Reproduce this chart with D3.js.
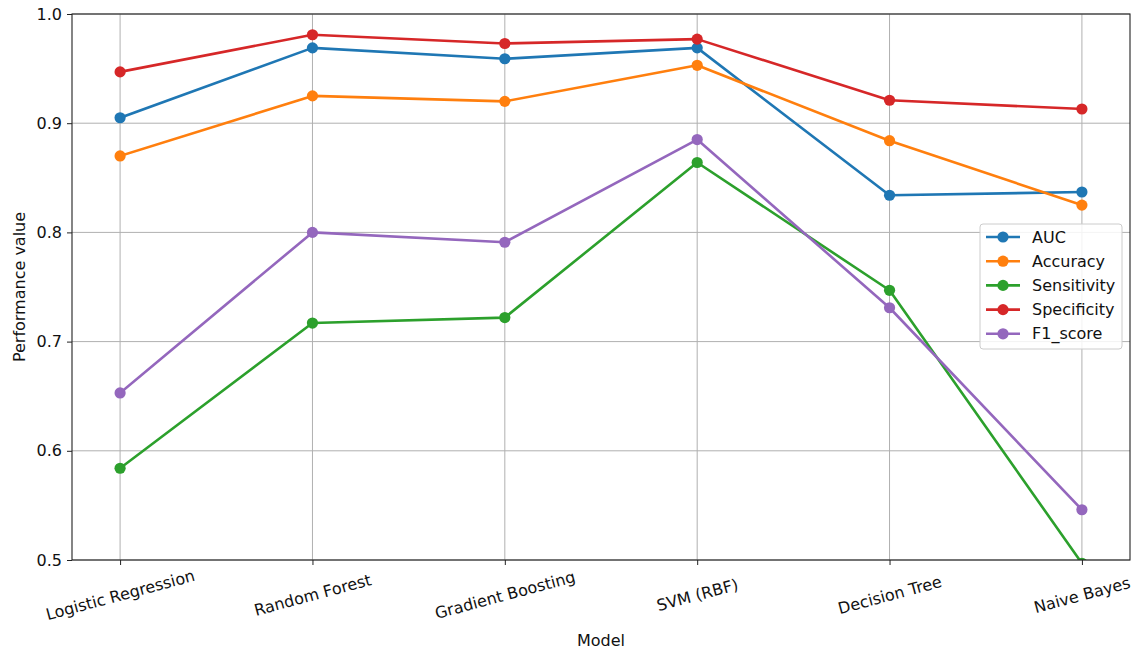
<!DOCTYPE html>
<html>
<head>
<meta charset="utf-8">
<script src="https://cdn.jsdelivr.net/npm/d3@7"></script>
<style>
  html, body { margin: 0; padding: 0; background: #fff; }
  svg { display: block; font-family: "DejaVu Sans", sans-serif; }
</style>
</head>
<body>
<svg id="chart" width="1132" height="651"></svg>
<script>
// Models on the x axis
const models = ["Logistic Regression", "Random Forest", "Gradient Boosting", "SVM (RBF)", "Decision Tree", "Naive Bayes"];

// Metric values per model
const auc         = [0.905, 0.969, 0.959, 0.969, 0.834, 0.837];
const accuracy    = [0.870, 0.925, 0.920, 0.953, 0.884, 0.825];
const sensitivity = [0.584, 0.717, 0.722, 0.864, 0.747, 0.497];
const specificity = [0.947, 0.981, 0.973, 0.977, 0.921, 0.913];
const f1Score     = [0.653, 0.800, 0.791, 0.885, 0.731, 0.546];

const seriesNames  = ["AUC", "Accuracy", "Sensitivity", "Specificity", "F1_score"];
const seriesColors = ["#1f77b4", "#ff7f0e", "#2ca02c", "#d62728", "#9467bd"];
const yTicks = [0.5, 0.6, 0.7, 0.8, 0.9, 1.0];

const series = [auc, accuracy, sensitivity, specificity, f1Score].map((vals, i) => ({
  name: seriesNames[i], color: seriesColors[i], values: vals
}));

const FONT = 16;
const svg = d3.select("#chart");
const plot = { left: 72, right: 1130, top: 14, bottom: 560 };

const x = d3.scaleLinear()
  .domain([-0.25, models.length - 0.75])
  .range([plot.left, plot.right]);
const y = d3.scaleLinear().domain([0.5, 1.0]).range([plot.bottom, plot.top]);

svg.append("defs").append("clipPath").attr("id", "plot-clip")
  .append("rect")
  .attr("x", plot.left).attr("y", plot.top)
  .attr("width", plot.right - plot.left).attr("height", plot.bottom - plot.top);

// Grid lines
const grid = svg.append("g");
grid.selectAll("line.gx").data(models).enter().append("line")
  .attr("x1", (d, i) => x(i)).attr("x2", (d, i) => x(i))
  .attr("y1", plot.top).attr("y2", plot.bottom)
  .attr("stroke", "#b0b0b0").attr("stroke-width", 1);
grid.selectAll("line.gy").data(yTicks).enter().append("line")
  .attr("x1", plot.left).attr("x2", plot.right)
  .attr("y1", d => y(d)).attr("y2", d => y(d))
  .attr("stroke", "#b0b0b0").attr("stroke-width", 1);

// Series lines and markers
const lines = svg.append("g").attr("clip-path", "url(#plot-clip)");
const lineGen = d3.line().x((d, i) => x(i)).y(d => y(d));
series.forEach(s => {
  lines.append("path")
    .attr("d", lineGen(s.values))
    .attr("fill", "none")
    .attr("stroke", s.color)
    .attr("stroke-width", 2.6)
    .attr("stroke-linejoin", "round")
    .attr("stroke-linecap", "square");
  lines.selectAll(null).data(s.values).enter().append("circle")
    .attr("cx", (d, i) => x(i)).attr("cy", d => y(d))
    .attr("r", 5.6).attr("fill", s.color);
});

// Axes
const yAxis = d3.axisLeft(y).tickValues(yTicks).tickFormat(d3.format(".1f")).tickSize(5).tickPadding(5);
const xAxis = d3.axisBottom(x).tickValues(d3.range(models.length)).tickFormat(i => models[i]).tickSize(5).tickPadding(4);

const gy = svg.append("g").attr("transform", `translate(${plot.left},0)`).call(yAxis);
gy.select(".domain").remove();
gy.selectAll("line").attr("stroke", "#222").attr("stroke-width", 1);
gy.selectAll("text").attr("font-size", FONT).attr("fill", "#111").attr("font-family", "DejaVu Sans");

const gx = svg.append("g").attr("transform", `translate(0,${plot.bottom})`).call(xAxis);
gx.select(".domain").remove();
gx.selectAll("line").attr("stroke", "#222").attr("stroke-width", 1);
gx.selectAll("text")
  .attr("font-size", FONT).attr("fill", "#111").attr("font-family", "DejaVu Sans")
  .attr("text-anchor", "middle")
  .attr("dy", null).attr("y", null)
  .attr("transform", "translate(0,36) rotate(-15)")
  .attr("dominant-baseline", "middle");

// Frame
svg.append("rect")
  .attr("x", plot.left).attr("y", plot.top)
  .attr("width", plot.right - plot.left).attr("height", plot.bottom - plot.top)
  .attr("fill", "none").attr("stroke", "#222").attr("stroke-width", 1.1);

// Axis titles
svg.append("text")
  .attr("x", (plot.left + plot.right) / 2).attr("y", 646)
  .attr("text-anchor", "middle").attr("font-size", FONT).attr("fill", "#111")
  .text("Model");
svg.append("text")
  .attr("transform", `translate(25,${(plot.top + plot.bottom) / 2}) rotate(-90)`)
  .attr("text-anchor", "middle").attr("font-size", FONT).attr("fill", "#111")
  .text("Performance value");

// Legend
const legend = svg.append("g").attr("transform", "translate(980,224)");
legend.append("rect")
  .attr("width", 142).attr("height", 125).attr("rx", 3)
  .attr("fill", "#fff").attr("fill-opacity", 0.85)
  .attr("stroke", "#cccccc").attr("stroke-width", 1);
series.forEach((s, i) => {
  const ly = 13 + i * 24.2;
  legend.append("line")
    .attr("x1", 6).attr("x2", 40).attr("y1", ly).attr("y2", ly)
    .attr("stroke", s.color).attr("stroke-width", 2.6);
  legend.append("circle").attr("cx", 23).attr("cy", ly).attr("r", 5.6).attr("fill", s.color);
  legend.append("text")
    .attr("x", 52).attr("y", ly).attr("dy", "0.35em")
    .attr("font-size", FONT).attr("fill", "#111")
    .text(s.name);
});
</script>
</body>
</html>
